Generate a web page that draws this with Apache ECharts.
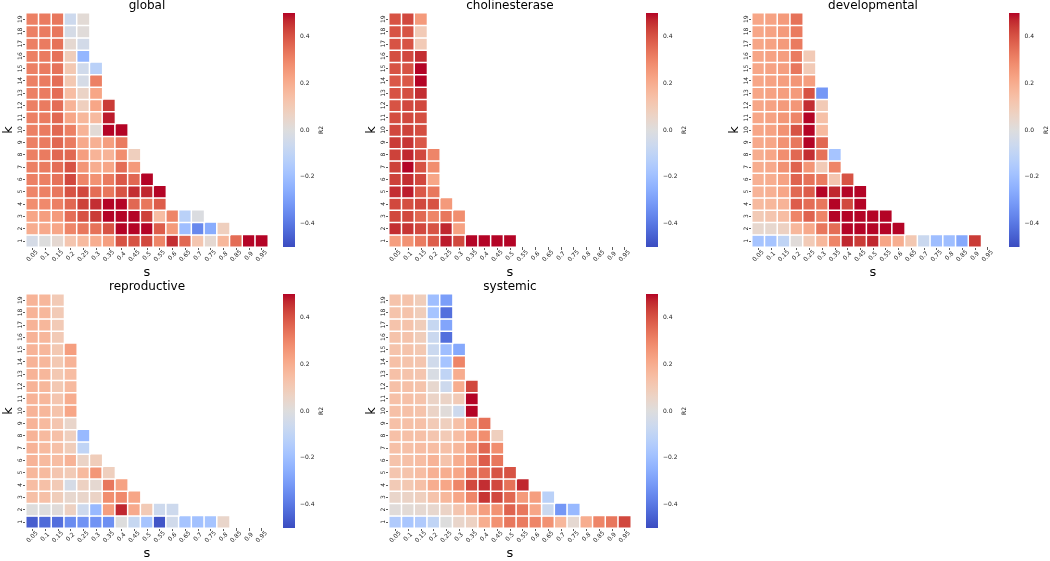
<!DOCTYPE html>
<html><head><meta charset="utf-8">
<script src="https://cdn.jsdelivr.net/npm/echarts@6/dist/echarts.min.js"></script>
<style>html,body{margin:0;padding:0;background:#fff}#c{width:1050px;height:561px}</style>
</head><body><div id="c"></div>
<script>
const sLabels = ['0.05','0.1','0.15','0.2','0.25','0.3','0.35','0.4','0.45','0.5','0.55','0.6','0.65','0.7','0.75','0.8','0.85','0.9','0.95'];
const kLabels = ['1','2','3','4','5','6','7','8','9','10','11','12','13','14','15','16','17','18','19'];
const cbTicks = [-0.4, -0.2, 0, 0.2, 0.4];
const panelTitles = ['global', 'cholinesterase', 'developmental', 'reproductive', 'systemic'];

// rows listed from k=1 (bottom) to k=19 (top); columns s=0.05..0.95
const globalR2 = [
  [-0.03, 0.0, 0.03, 0.12, 0.16, 0.2, 0.24, 0.4, 0.4, 0.42, 0.3, 0.46, 0.36, 0.12, 0.03, 0.17, 0.35, 0.5, 0.5],
  [0.2, 0.21, 0.22, 0.3, 0.33, 0.34, 0.4, 0.5, 0.5, 0.5, 0.38, 0.25, -0.2, -0.36, -0.26, 0.08],
  [0.22, 0.24, 0.25, 0.35, 0.4, 0.44, 0.5, 0.5, 0.5, 0.43, 0.15, 0.3, -0.12, -0.01],
  [0.28, 0.29, 0.31, 0.36, 0.43, 0.46, 0.5, 0.5, 0.36, 0.33, 0.38],
  [0.3, 0.31, 0.33, 0.4, 0.42, 0.35, 0.33, 0.4, 0.46, 0.47, 0.5],
  [0.31, 0.31, 0.34, 0.42, 0.3, 0.27, 0.32, 0.39, 0.36, 0.5],
  [0.31, 0.32, 0.35, 0.4, 0.26, 0.2, 0.22, 0.35, 0.25],
  [0.31, 0.32, 0.36, 0.36, 0.24, 0.18, 0.18, 0.28, 0.08],
  [0.31, 0.32, 0.36, 0.32, 0.21, 0.19, 0.24, 0.32],
  [0.31, 0.32, 0.36, 0.31, 0.18, 0.02, 0.5, 0.5],
  [0.31, 0.32, 0.36, 0.22, 0.17, 0.16, 0.48],
  [0.31, 0.32, 0.35, 0.18, 0.08, 0.22, 0.44],
  [0.31, 0.32, 0.35, 0.15, 0.06, 0.22],
  [0.31, 0.32, 0.35, 0.11, -0.03, 0.31],
  [0.31, 0.32, 0.34, 0.11, -0.05, -0.12],
  [0.31, 0.32, 0.34, 0.09, -0.23],
  [0.31, 0.32, 0.34, 0.03, -0.04],
  [0.31, 0.32, 0.33, -0.03, 0.01],
  [0.31, 0.32, 0.33, -0.06, 0.02]
];
const cholinesteraseR2 = [
  [0.24, 0.27, 0.32, 0.38, 0.48, 0.42, 0.5, 0.5, 0.5, 0.5],
  [0.46, 0.45, 0.42, 0.4, 0.47, 0.23],
  [0.42, 0.42, 0.36, 0.3, 0.33, 0.28],
  [0.42, 0.41, 0.42, 0.4, 0.25],
  [0.46, 0.48, 0.39, 0.33],
  [0.43, 0.46, 0.42, 0.22],
  [0.43, 0.5, 0.4, 0.28],
  [0.43, 0.47, 0.42, 0.3],
  [0.44, 0.45, 0.39],
  [0.42, 0.43, 0.41],
  [0.41, 0.42, 0.41],
  [0.4, 0.42, 0.42],
  [0.4, 0.41, 0.46],
  [0.39, 0.39, 0.5],
  [0.4, 0.4, 0.5],
  [0.41, 0.42, 0.46],
  [0.4, 0.4, 0.1],
  [0.4, 0.4, 0.1],
  [0.4, 0.42, 0.25]
];
const developmentalR2 = [
  [-0.18, -0.18, -0.1, 0.01, 0.1, 0.17, 0.3, 0.47, 0.44, 0.47, 0.22, 0.2, 0.11, -0.07, -0.2, -0.2, -0.27, 0.44],
  [0.04, 0.04, 0.07, 0.17, 0.21, 0.33, 0.35, 0.5, 0.5, 0.5, 0.5, 0.5],
  [0.1, 0.12, 0.15, 0.3, 0.37, 0.3, 0.5, 0.5, 0.5, 0.5, 0.5],
  [0.16, 0.17, 0.18, 0.38, 0.35, 0.33, 0.5, 0.42, 0.5],
  [0.18, 0.19, 0.22, 0.36, 0.38, 0.5, 0.47, 0.5, 0.5],
  [0.19, 0.2, 0.23, 0.37, 0.34, 0.32, 0.12, 0.4],
  [0.2, 0.21, 0.27, 0.37, 0.26, 0.1, 0.3],
  [0.2, 0.22, 0.28, 0.36, 0.46, 0.34, -0.18],
  [0.21, 0.22, 0.27, 0.33, 0.5, 0.36],
  [0.22, 0.23, 0.27, 0.4, 0.5, 0.16],
  [0.22, 0.23, 0.26, 0.3, 0.5, 0.14],
  [0.22, 0.23, 0.25, 0.26, 0.46, 0.1],
  [0.22, 0.23, 0.24, 0.25, 0.4, -0.32],
  [0.22, 0.23, 0.24, 0.26, 0.24],
  [0.22, 0.23, 0.24, 0.33, 0.1],
  [0.22, 0.23, 0.24, 0.32, 0.1],
  [0.22, 0.23, 0.25, 0.32],
  [0.22, 0.23, 0.25, 0.32],
  [0.22, 0.23, 0.25, 0.34]
];
const reproductiveR2 = [
  [-0.46, -0.43, -0.42, -0.35, -0.33, -0.33, -0.34, 0.0, -0.08, -0.18, -0.48, -0.05, -0.18, -0.19, -0.18, 0.05],
  [0.0, 0.0, 0.01, 0.07, -0.06, -0.22, 0.24, 0.47, 0.21, 0.1, -0.06, -0.06],
  [0.14, 0.14, 0.09, 0.04, 0.05, 0.06, 0.28, 0.29, 0.22],
  [0.15, 0.14, 0.1, -0.03, 0.07, 0.03, 0.33, 0.23],
  [0.17, 0.16, 0.12, 0.1, 0.16, 0.26, 0.08],
  [0.18, 0.16, 0.15, 0.18, 0.06, 0.09],
  [0.18, 0.16, 0.14, 0.09, -0.1],
  [0.18, 0.16, 0.14, 0.08, -0.22],
  [0.18, 0.16, 0.12, 0.05],
  [0.18, 0.17, 0.13, 0.22],
  [0.18, 0.17, 0.12, 0.2],
  [0.18, 0.17, 0.11, 0.16],
  [0.18, 0.17, 0.11, 0.15],
  [0.18, 0.17, 0.11, 0.18],
  [0.18, 0.17, 0.11, 0.24],
  [0.18, 0.17, 0.1],
  [0.18, 0.17, 0.1],
  [0.18, 0.17, 0.1],
  [0.18, 0.17, 0.1]
];
const systemicR2 = [
  [-0.15, -0.17, -0.15, -0.1, 0.0, 0.05, 0.07, 0.2, 0.27, 0.33, 0.32, 0.3, 0.27, 0.17, 0.03, 0.2, 0.3, 0.33, 0.42],
  [0.01, 0.02, 0.03, 0.04, 0.06, 0.12, 0.17, 0.24, 0.27, 0.37, 0.33, 0.22, -0.07, -0.32, -0.22],
  [0.05, 0.06, 0.08, 0.13, 0.17, 0.22, 0.3, 0.45, 0.42, 0.36, 0.25, 0.24, -0.12],
  [0.1, 0.11, 0.14, 0.2, 0.22, 0.3, 0.42, 0.46, 0.42, 0.34, 0.47],
  [0.12, 0.13, 0.15, 0.19, 0.2, 0.22, 0.32, 0.35, 0.4, 0.4],
  [0.13, 0.14, 0.15, 0.18, 0.13, 0.2, 0.25, 0.38, 0.33],
  [0.14, 0.14, 0.15, 0.15, 0.14, 0.17, 0.25, 0.36, 0.28],
  [0.14, 0.14, 0.14, 0.12, 0.1, 0.15, 0.22, 0.28, 0.08],
  [0.14, 0.14, 0.14, 0.1, 0.08, 0.14, 0.24, 0.34],
  [0.14, 0.14, 0.13, 0.06, 0.01, -0.06, 0.5],
  [0.14, 0.14, 0.13, 0.06, 0.06, 0.1, 0.5],
  [0.14, 0.14, 0.13, 0.04, -0.06, 0.2, 0.42],
  [0.14, 0.13, 0.12, -0.02, -0.1, 0.2],
  [0.14, 0.13, 0.12, -0.05, -0.18, 0.3],
  [0.13, 0.13, 0.11, -0.07, -0.2, -0.27],
  [0.13, 0.13, 0.09, -0.07, -0.42],
  [0.13, 0.13, 0.09, -0.08, -0.28],
  [0.13, 0.13, 0.09, -0.18, -0.42],
  [0.13, 0.13, 0.09, -0.2, -0.3]
];

const panelData = [globalR2, cholinesteraseR2, developmentalR2, reproductiveR2, systemicR2];

// matplotlib "coolwarm" colormap
const coolwarm = ['#3b4cc0','#445acc','#4d68d7','#5775e1','#6282ea','#6c8ef1','#779af7','#82a5fb','#8db0fe','#98b9ff','#a3c2ff','#aec9fd','#b8d0f9','#c2d5f4','#ccd9ee','#d5dbe6','#dddddd','#e5d8d1','#ecd3c5','#f1ccb8','#f5c4ad','#f7bba0','#f7b194','#f7a687','#f49a7b','#f18d6f','#ec7f63','#e57058','#de604d','#d55042','#cb3e38','#c0282f','#b40426'];
const vMin = -0.5, vMax = 0.5;

const chart = echarts.init(document.getElementById('c'));
const FONT = 'DejaVu Sans';
const gridW = 242, gridH = 234;
const positions = [[26, 13], [389, 13], [752, 13], [26, 294], [389, 294]];

const grid = [], xAxis = [], yAxis = [], series = [], graphic = [];
panelData.forEach((rows, i) => {
  const [L, T] = positions[i];
  grid.push({left: L, top: T, width: gridW, height: gridH});
  const d = [];
  rows.forEach((row, r) => row.forEach((v, c) => { if (v !== null) d.push([c, r, v]); }));
  xAxis.push({
    type: 'category', gridIndex: i, data: sLabels,
    axisLine: {show: false}, splitLine: {show: false},
    axisTick: {show: true, alignWithLabel: true, length: 3, interval: 0, lineStyle: {color: '#333', width: 0.8}},
    axisLabel: {interval: 0, rotate: 45, align: 'center', verticalAlign: 'middle', margin: 9, fontSize: 6, color: '#222', fontFamily: FONT},
    name: 's', nameLocation: 'middle', nameGap: 17, nameTextStyle: {fontSize: 13, color: '#000', fontFamily: FONT}
  });
  yAxis.push({
    type: 'category', gridIndex: i, data: kLabels,
    axisLine: {show: false}, splitLine: {show: false},
    axisTick: {show: true, alignWithLabel: true, length: 3, interval: 0, lineStyle: {color: '#333', width: 0.8}},
    axisLabel: {interval: 0, rotate: 90, margin: 3, fontSize: 6, color: '#222', fontFamily: FONT},
    name: 'k', nameLocation: 'middle', nameRotate: 90, nameGap: 11, nameTextStyle: {fontSize: 13, color: '#000', fontFamily: FONT}
  });
  series.push({
    type: 'heatmap', xAxisIndex: i, yAxisIndex: i, data: d,
    itemStyle: {borderColor: '#fff', borderWidth: 1.5},
    emphasis: {disabled: true}
  });
  graphic.push({type: 'text', x: L + gridW / 2, y: T - 7, style: {text: panelTitles[i], fill: '#000', font: '12px "DejaVu Sans"', textAlign: 'center', textVerticalAlign: 'middle'}});
});

// colorbars
panelData.forEach((rows, i) => {
  const [L, T] = positions[i];
  const gi = grid.length;
  grid.push({left: L + 257, top: T, width: 12, height: gridH});
  xAxis.push({type: 'value', gridIndex: gi, min: 0, max: 1, show: false});
  yAxis.push({
    type: 'value', gridIndex: gi, min: vMin, max: vMax, position: 'right',
    axisLine: {show: false}, splitLine: {show: false},
    axisTick: {show: true, length: 3, customValues: cbTicks, lineStyle: {color: '#333', width: 0.8}},
    axisLabel: {customValues: cbTicks, margin: 5, fontSize: 6, color: '#222', fontFamily: FONT,
      formatter: v => v.toFixed(1).replace('-', '\u2212')},
    name: 'R2', nameLocation: 'middle', nameRotate: 90, nameGap: 20,
    nameTextStyle: {fontSize: 6, color: '#222', fontFamily: FONT}
  });
  series.push({
    type: 'custom', xAxisIndex: gi, yAxisIndex: gi, data: [[0, vMin]], silent: true,
    renderItem: (params, api) => {
      const p0 = api.coord([0, vMin]);
      const p1 = api.coord([1, vMax]);
      return {type: 'rect', shape: {x: p0[0], y: p1[1], width: p1[0] - p0[0], height: p0[1] - p1[1]},
        style: {fill: new echarts.graphic.LinearGradient(0, 1, 0, 0,
          coolwarm.map((c, j) => ({offset: j / (coolwarm.length - 1), color: c})))}};
    }
  });
});

chart.setOption({
  animation: false,
  backgroundColor: '#fff',
  grid, xAxis, yAxis, series, graphic,
  visualMap: {type: 'continuous', show: false, min: vMin, max: vMax, seriesIndex: [0, 1, 2, 3, 4], inRange: {color: coolwarm}}
});
</script></body></html>
